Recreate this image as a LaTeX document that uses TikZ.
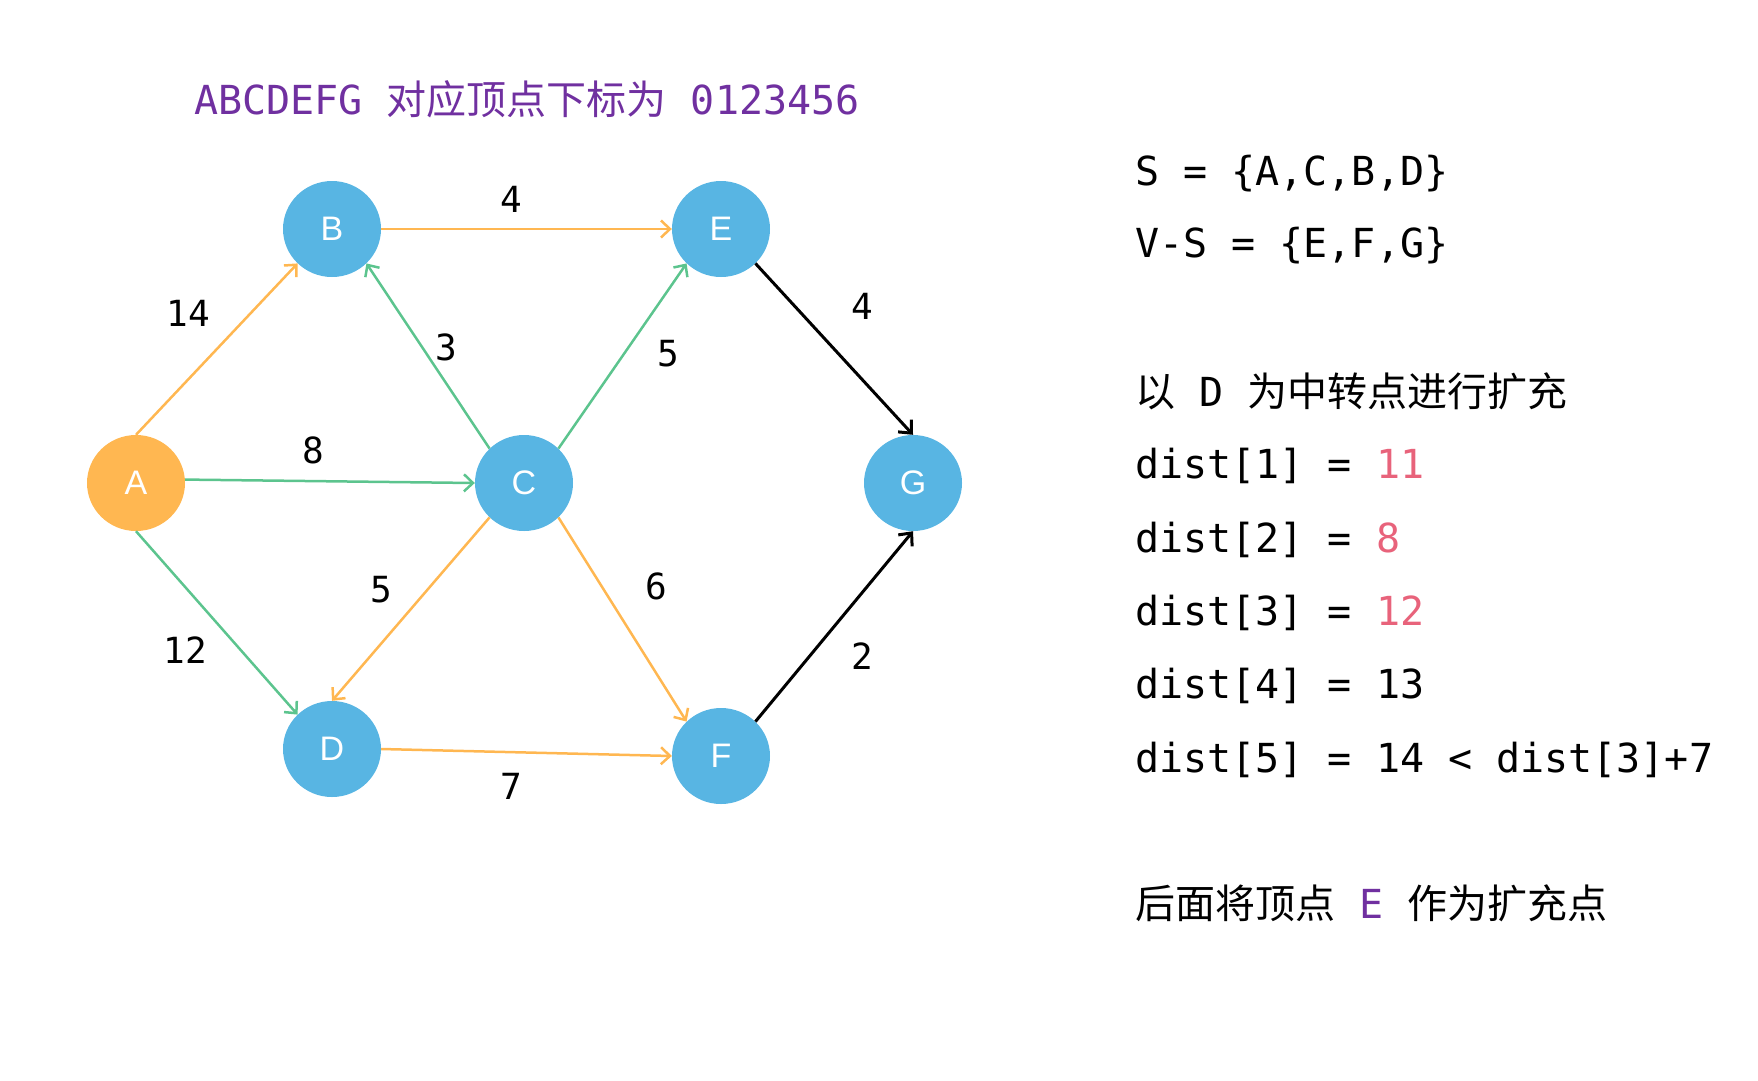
\documentclass[tikz,border=0pt]{standalone}
\usepackage{fontspec}
\usetikzlibrary{arrows.meta,shapes.geometric}
\setmainfont{Liberation Sans}
\newfontfamily\mono{DejaVu Sans Mono}
\newfontfamily\cjk{Noto Sans CJK SC}
\definecolor{nodeblue}{HTML}{58B5E3}
\definecolor{nodeorange}{HTML}{FFB751}
\definecolor{edgeorange}{HTML}{FFB751}
\definecolor{edgegreen}{HTML}{5CC48E}
\definecolor{titlepurple}{HTML}{7030A0}
\definecolor{numred}{HTML}{E8637B}
\tikzset{
  vert/.style={ellipse,minimum width=98pt,minimum height=96pt,inner sep=0pt,fill=nodeblue,text=white,font=\fontsize{34}{34}\selectfont},
  startvert/.style={vert,fill=nodeorange},
  arr/.style={-{Straight Barb[length=9pt,width=17pt,line width=2.5pt]},line width=2.5pt},
  oedge/.style={arr,draw=edgeorange},
  gedge/.style={arr,draw=edgegreen},
  bedge/.style={-{Straight Barb[length=10pt,width=18pt,line width=3pt]},line width=3pt,draw=black},
  wlabel/.style={font=\mono\fontsize{36}{36}\selectfont,text=black,inner sep=0pt},
  rtext/.style={font=\mono\fontsize{40}{40}\selectfont,anchor=base west,inner sep=0pt}
}
\begin{document}
\begin{tikzpicture}[x=1pt,y=-1pt]
\useasboundingbox (0,0) rectangle (1758,1080);
% title
\node[rtext,text=titlepurple] (title) at (194,114) {ABCDEFG {\cjk 对应顶点下标为} 0123456};
% vertices
\node[startvert] (A) at (136,483) {A};
\node[vert] (B) at (332,229) {B};
\node[vert] (E) at (721,229) {E};
\node[vert] (C) at (524,483) {C};
\node[vert] (G) at (913,483) {G};
\node[vert] (D) at (332,749) {D};
\node[vert] (F) at (721,756) {F};
% edges
\draw[oedge] (A.north) -- (B.225);
\draw[oedge] (B.east) -- (E.west);
\draw[gedge] (A.4) -- (C.west);
\draw[gedge] (C.135) -- (B.-45);
\draw[gedge] (C.45) -- (E.225);
\draw[gedge] (A.south) -- (D.135);
\draw[oedge] (C.225) -- (D.north);
\draw[oedge] (C.-45) -- (F.135);
\draw[oedge] (D.east) -- (F.west);
\draw[bedge] (E.-45) -- (G.north);
\draw[bedge] (F.45) -- (G.south);
% edge weights
\node[wlabel] (wBE) at (511,199) {4};
\node[wlabel] (wAB) at (188,313) {14};
\node[wlabel] (wCB) at (446,347) {3};
\node[wlabel] (wCE) at (668,354) {5};
\node[wlabel] (wAC) at (313,450) {8};
\node[wlabel] (wEG) at (862,306) {4};
\node[wlabel] (wCD) at (381,590) {5};
\node[wlabel] (wCF) at (656,586) {6};
\node[wlabel] (wAD) at (185,650) {12};
\node[wlabel] (wFG) at (862,656) {2};
\node[wlabel] (wDF) at (511,786) {7};
% right text
\node[rtext] (s1) at (1135,185) {S = \{A,C,B,D\}};
\node[rtext] (s2) at (1135,257) {V-S = \{E,F,G\}};
\node[rtext] (s3) at (1135,406) {{\cjk 以} D {\cjk 为中转点进行扩充}};
\node[rtext] (d1) at (1135,478) {dist[1] = \textcolor{numred}{11}};
\node[rtext] (d2) at (1135,552) {dist[2] = \textcolor{numred}{8}};
\node[rtext] (d3) at (1135,625) {dist[3] = \textcolor{numred}{12}};
\node[rtext] (d4) at (1135,698) {dist[4] = 13};
\node[rtext] (d5) at (1135,772) {dist[5] = 14 < dist[3]+7};
\node[rtext] (s4) at (1135,918) {{\cjk 后面将顶点} \textcolor{titlepurple}{E} {\cjk 作为扩充点}};
\end{tikzpicture}
\end{document}
